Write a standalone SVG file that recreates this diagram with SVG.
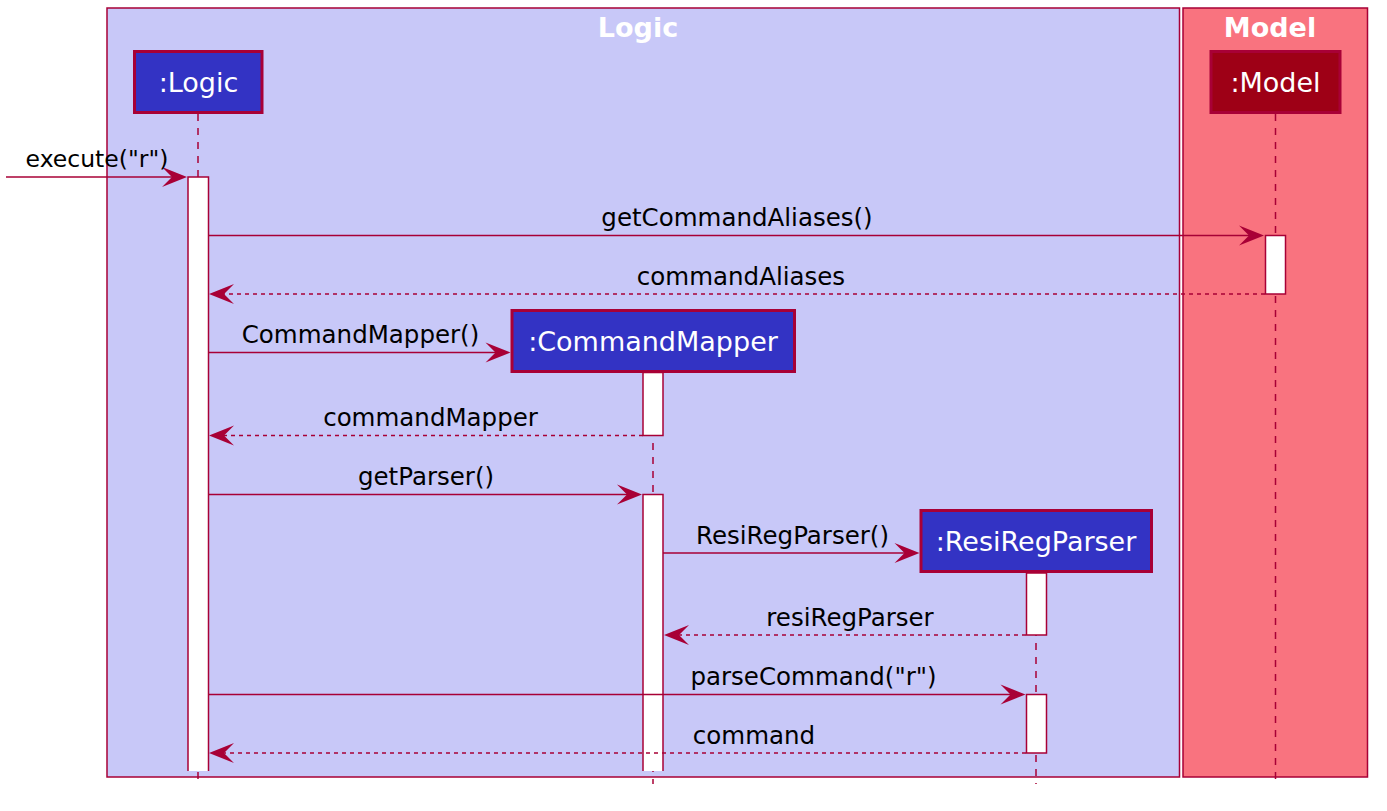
<svg xmlns="http://www.w3.org/2000/svg" width="1387" height="811" viewBox="0 0 1387 811">
<style>
.box{stroke:#A80036;stroke-width:1.5}
.title{font-family:"DejaVu Sans",sans-serif;font-weight:bold;font-size:27px;fill:#FFFFFF;text-anchor:middle}
.part{stroke:#A80036;stroke-width:3}
.ptxt{font-family:"DejaVu Sans",sans-serif;font-size:27px;fill:#FFFFFF;text-anchor:middle}
.life{stroke:#A80036;stroke-width:1.5;stroke-dasharray:7,7;fill:none}
.act{fill:#FFFFFF;stroke:#A80036;stroke-width:1.5}
.msg{stroke:#A80036;stroke-width:1.5;fill:none}
.ret{stroke:#A80036;stroke-width:1.5;fill:none;stroke-dasharray:4,4}
.head{fill:#A80036}
.mtxt{font-family:"DejaVu Sans",sans-serif;font-size:24.5px;fill:#000000;text-anchor:middle}
</style>
<defs>
<path id="ah" d="M0,0 L-25,-10 L-15,0 L-25,10 Z"/>
</defs>
<rect width="1387" height="811" fill="#FFFFFF"/>
<g id="box-logic">
<rect class="box" x="107" y="8" width="1072.5" height="769" fill="#C8C8F8"/>
<text class="title" x="638" y="37">Logic</text>
</g>
<g id="box-model">
<rect class="box" x="1183" y="8" width="184.5" height="769" fill="#F9737F"/>
<text class="title" x="1270" y="37">Model</text>
</g>
<g id="lifelines">
<line class="life" x1="198" y1="114" x2="198" y2="784"/>
<line class="life" x1="1275.5" y1="114" x2="1275.5" y2="784"/>
<line class="life" x1="653" y1="373" x2="653" y2="784"/>
<line class="life" x1="1036" y1="573" x2="1036" y2="784"/>
</g>
<g id="p-logic">
<rect class="part" x="134.5" y="51.5" width="127.5" height="61" fill="#3333C4"/>
<text class="ptxt" x="198.5" y="91.5">:Logic</text>
</g>
<g id="p-model">
<rect class="part" x="1211" y="51.5" width="129" height="61" fill="#9E0016"/>
<text class="ptxt" x="1275.5" y="91.5">:Model</text>
</g>
<g id="p-commandmapper">
<rect class="part" x="512" y="310.5" width="282.5" height="61" fill="#3333C4"/>
<text class="ptxt" x="653" y="350.5">:CommandMapper</text>
</g>
<g id="p-resiregparser">
<rect class="part" x="921" y="510.5" width="230.5" height="61" fill="#3333C4"/>
<text class="ptxt" x="1036" y="550.5">:ResiRegParser</text>
</g>
<g id="activations">
<path class="act" d="M188,771 V177 H208.5 V771"/>
<rect class="act" x="1265.5" y="235.5" width="20" height="58.5"/>
<rect class="act" x="643" y="372.5" width="20" height="63"/>
<path class="act" d="M643,771 V494.5 H663 V771"/>
<rect class="act" x="1026.5" y="573" width="20" height="62"/>
<rect class="act" x="1026.5" y="694.5" width="20" height="58.5"/>
</g>
<g id="connectors">
<line class="msg" x1="6" y1="177" x2="175" y2="177"/>
<use href="#ah" class="head" transform="translate(187,177)"/>
<text class="mtxt" x="97" y="167" style="font-size:23.5px">execute("r")</text>

<line class="msg" x1="208.5" y1="235.5" x2="1252" y2="235.5"/>
<use href="#ah" class="head" transform="translate(1264,235.5)"/>
<text class="mtxt" x="737" y="226">getCommandAliases()</text>

<line class="ret" x1="1265" y1="294" x2="222" y2="294"/>
<use href="#ah" class="head" transform="translate(209,294) scale(-1,1)"/>
<text class="mtxt" x="741" y="284.5">commandAliases</text>

<line class="msg" x1="208.5" y1="352.5" x2="498" y2="352.5"/>
<use href="#ah" class="head" transform="translate(510.5,352.5)"/>
<text class="mtxt" x="360.5" y="343">CommandMapper()</text>

<line class="ret" x1="643" y1="435.5" x2="222" y2="435.5"/>
<use href="#ah" class="head" transform="translate(209,435.5) scale(-1,1)"/>
<text class="mtxt" x="430.5" y="426">commandMapper</text>

<line class="msg" x1="208.5" y1="494.5" x2="630" y2="494.5"/>
<use href="#ah" class="head" transform="translate(642,494.5)"/>
<text class="mtxt" x="426" y="485">getParser()</text>

<line class="msg" x1="663" y1="553" x2="907" y2="553"/>
<use href="#ah" class="head" transform="translate(919.5,553)"/>
<text class="mtxt" x="792.5" y="543.5">ResiRegParser()</text>

<line class="ret" x1="1026" y1="635" x2="677" y2="635"/>
<use href="#ah" class="head" transform="translate(664,635) scale(-1,1)"/>
<text class="mtxt" x="850" y="625.5">resiRegParser</text>

<line class="msg" x1="208.5" y1="694.5" x2="1013" y2="694.5"/>
<use href="#ah" class="head" transform="translate(1025.5,694.5)"/>
<text class="mtxt" x="813.5" y="685">parseCommand("r")</text>

<line class="ret" x1="1026" y1="753" x2="222" y2="753"/>
<use href="#ah" class="head" transform="translate(209,753) scale(-1,1)"/>
<text class="mtxt" x="754" y="743.5">command</text>
</g>
</svg>
